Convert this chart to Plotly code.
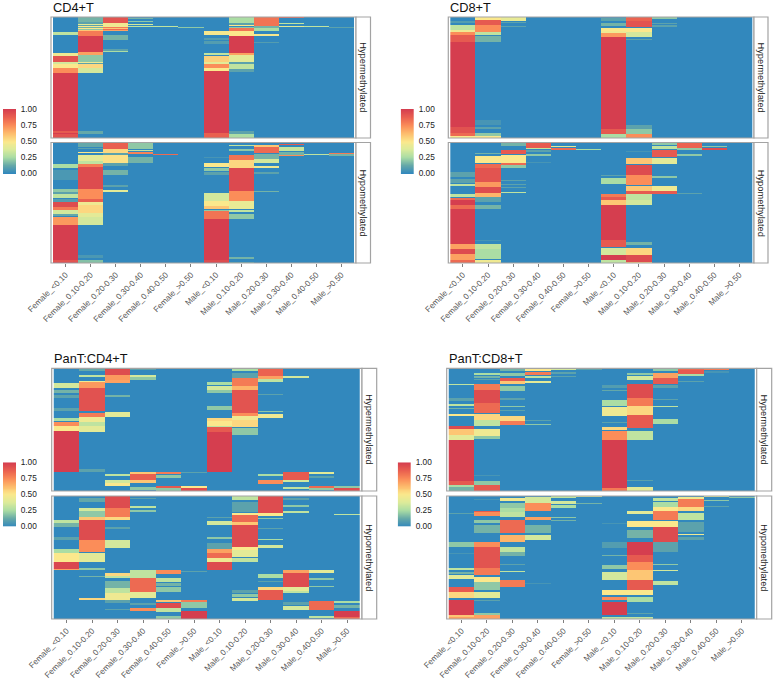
import plotly.graph_objects as go

CATEGORIES = ["Female_<0.10", "Female_0.10-0.20", "Female_0.20-0.30", "Female_0.30-0.40", "Female_0.40-0.50", "Female_>0.50",
              "Male_<0.10", "Male_0.10-0.20", "Male_0.20-0.30", "Male_0.30-0.40", "Male_0.40-0.50", "Male_>0.50"]
BAR_TICKS = [0, 0.25, 0.5, 0.75, 1]
BAR_LABELS = ["0.00", "0.25", "0.50", "0.75", "1.00"]

# Each heatmap column: (first row, row after last, proportion); unlisted rows read 0.
CD4_HYPER = [
 [(15,18,.3),(36,39,.45),(39,45,.92),(45,47,.35),(47,51,.5),(51,56,.75),(56,114,1),(114,116,.9),(116,117,1),(117,121,.93)],
 [(0,5,.15),(5,7,.1),(7,8,.4),(8,9,.1),(9,10,.5),(10,11,.15),(11,12,.5),(12,13,.2),(13,14,.6),(14,19,.8),(19,35,1),(35,38,.7),(38,45,.2),(45,46,.45),(46,47,.1),(47,51,.55),(51,56,.35),(114,117,.12)],
 [(0,6,.92),(6,10,.45),(10,11,.8),(11,12,.6),(12,13,.85),(13,14,.7),(18,23,.15),(32,34,.1),(34,35,.25)],
 [(1,2,.15),(4,5,.2),(7,8,.35),(9,10,.3)],
 [(9,10,.3)],
 [(10,11,.2)],
 [(14,18,.48),(21,23,.08),(24,27,.08),(36,38,.3),(39,45,.57),(45,47,.4),(47,51,.75),(51,54,.5),(54,116,1),(116,121,.88)],
 [(0,6,.25),(6,8,.1),(8,9,.5),(10,11,.2),(11,14,.82),(14,19,.5),(19,36,1),(36,38,.7),(38,45,.4),(45,47,.1),(47,52,.3),(52,55,.1),(114,117,.1),(117,121,.25)],
 [(0,9,.82),(9,11,.15),(11,14,.25),(17,19,.48),(25,26,.08)],
 [(0,1,.9),(6,7,.3),(9,10,.4)],
 [(9,10,.3)],
 [(10,11,.1)],
]
CD4_HYPO = [
 [(21,25,.25),(27,37,.06),(46,49,.2),(49,51,.1),(51,55,.3),(56,59,.08),(59,64,.95),(64,67,.8),(67,71,.35),(71,73,.12),(74,82,.72),(82,117,1),(117,119,.92),(119,121,1)],
 [(0,4,.12),(5,6,.1),(9,10,.5),(12,18,.4),(18,21,.3),(21,24,.8),(24,46,.95),(46,56,.75),(56,59,.88),(59,62,.45),(62,70,.55),(70,74,.4),(74,82,.35),(112,115,.06),(117,121,.18)],
 [(0,6,.88),(6,10,.55),(10,12,.1),(12,20,.52),(20,23,.1),(27,32,.15),(42,44,.1),(47,49,.4)],
 [(0,6,.2),(7,8,.3),(9,11,.78),(14,20,.15)],
 [(11,12,.85)],
 [],
 [(14,15,.05),(20,24,.5),(25,28,.2),(29,32,.1),(50,58,.35),(58,63,.5),(63,66,.6),(67,68,.2),(68,76,.82),(76,117,1),(117,119,.95),(119,121,1)],
 [(2,3,.3),(6,8,.2),(12,17,.82),(17,25,.55),(25,48,.96),(48,58,.75),(58,66,.42),(67,69,.3),(71,76,.2),(114,116,.15),(119,121,.1)],
 [(2,4,.6),(4,10,.85),(11,16,.15),(16,20,.35),(23,25,.45),(29,31,.1),(48,49,.15)],
 [(1,2,.9),(4,8,.32),(9,12,.15),(12,13,.75)],
 [(11,12,.3)],
 [(10,11,.8),(11,13,.15)],
]
CD8_HYPER = [
 [(4,6,.08),(8,13,.3),(13,15,.45),(15,18,.75),(18,25,.9),(25,110,1),(110,116,.93),(116,119,.85),(119,121,.5)],
 [(0,3,.5),(3,8,.9),(8,15,.75),(15,18,.3),(19,25,.15),(103,108,.05),(110,112,.1),(116,119,.2),(119,121,.5)],
 [(0,4,.42),(5,6,.1),(9,10,.1)],
 [], [], [],
 [(1,4,.1),(6,9,.15),(11,14,.5),(14,16,.45),(16,20,.72),(20,112,1),(112,117,.9),(117,121,.25)],
 [(0,4,.87),(4,10,.92),(11,15,.5),(15,20,.35),(22,23,.1),(108,112,.1),(112,117,.2),(117,121,.75)],
 [(0,2,.2),(6,7,.1),(8,10,.1)],
 [], [], [],
]
CD8_HYPO = [
 [(29,34,.1),(36,40,.1),(41,43,.3),(51,54,.3),(55,57,.85),(57,62,1),(62,66,.85),(66,101,1),(101,106,.7),(106,111,.95),(111,117,.7),(117,121,.85)],
 [(10,11,.15),(13,20,.5),(21,25,.85),(25,39,.92),(39,44,.72),(44,50,.95),(50,54,.65),(54,59,.1),(62,66,.15),(97,98,.05),(101,106,.3),(106,116,.25),(117,121,.45)],
 [(0,3,.15),(7,11,.9),(12,20,.5),(20,22,.85),(22,25,.2),(37,38,.1),(41,42,.1),(44,45,.1),(49,50,.3)],
 [(0,5,.9),(5,6,.3),(7,9,.1),(11,13,.2),(19,20,.05)],
 [(3,4,.4),(5,7,.85)],
 [(6,7,.25)],
 [(32,33,.1),(35,41,.25),(51,54,.8),(54,57,.9),(57,62,.6),(62,97,1),(97,104,.9),(105,112,.35),(112,117,1),(117,121,.3)],
 [(8,9,.05),(15,21,.6),(22,32,.95),(32,42,.75),(43,48,.6),(48,51,.9),(51,57,.3),(57,62,.35),(99,102,.15),(105,112,.55),(112,119,.95),(119,121,.6)],
 [(0,2,.2),(3,6,.3),(7,14,.9),(15,21,.4),(33,35,.2),(43,48,.45),(48,51,.9)],
 [(0,5,.87),(5,7,.2),(11,13,.2),(50,51,.1)],
 [(3,4,.2),(5,7,.95)],
 [],
]
PAN_CD4_HYPER = [
 [(15,20,.35),(22,25,.15),(27,30,.1),(40,43,.1),(50,53,.25),(54,58,.75),(58,63,.5),(63,104,1)],
 [(1,3,.12),(7,9,.3),(13,14,.45),(14,20,.72),(20,43,.93),(45,49,.8),(49,54,.45),(54,58,.3),(58,64,.4),(101,104,.1)],
 [(0,7,.95),(7,12,.72),(12,15,.7),(27,29,.15),(44,49,.4),(106,108,.3),(112,115,.35),(115,118,.5)],
 [(1,2,.1),(7,9,.35),(9,12,.2),(104,106,.6),(106,112,.88),(112,115,.6),(119,122,.2)],
 [(104,106,.8),(107,110,.2),(118,120,.9),(120,123,.2)],
 [(104,105,.1),(118,120,.5),(120,123,.95)],
 [(14,17,.25),(18,22,.35),(22,25,.2),(38,42,.2),(50,53,.55),(53,58,.5),(58,59,.3),(59,64,.9),(64,104,1)],
 [(1,3,.25),(5,10,.1),(10,18,.8),(18,22,.65),(22,45,.92),(45,48,.75),(48,52,.45),(52,59,.55),(60,67,.2)],
 [(0,8,.87),(8,11,.7),(11,14,.3),(26,27,.1),(43,44,.2),(46,50,.45),(106,108,.25),(112,116,.75)],
 [(8,10,.35),(104,112,.9),(112,114,.35),(119,121,.3)],
 [(104,106,.4),(108,110,.1),(118,120,.85),(120,122,.2)],
 [(118,120,.2),(120,123,.95)],
]
PAN_CD4_HYPO = [
 [(24,27,.3),(27,31,.15),(41,44,.1),(53,57,.25),(57,66,.5),(66,73,.97),(73,74,.7)],
 [(2,6,.12),(12,15,.35),(15,21,.2),(21,24,.6),(24,44,.95),(44,56,.75),(57,66,.4),(72,74,.2),(80,81,.15),(102,104,.55)],
 [(0,12,.95),(12,21,.8),(21,24,.55),(31,33,.1),(44,52,.35),(77,80,.55),(80,82,.3),(85,92,.15),(92,97,.3),(97,104,.45),(104,107,.1),(113,114,.1)],
 [(2,3,.1),(10,12,.3),(14,16,.2),(74,78,.3),(78,82,.3),(82,96,.85),(96,102,.4),(107,109,.1),(112,115,.75)],
 [(74,78,.75),(82,86,.3),(87,90,.15),(91,96,.2),(104,106,.6),(107,112,.95),(112,116,.3),(120,123,.2)],
 [(75,76,.1),(104,106,.8),(106,112,.2),(115,123,1)],
 [(21,22,.1),(25,29,.35),(41,43,.2),(47,53,.1),(53,57,.7),(57,62,.85),(62,66,.45),(66,74,.95)],
 [(0,4,.3),(6,16,.1),(17,19,.5),(19,26,.85),(26,29,.6),(29,51,.95),(51,54,.5),(54,61,.4),(62,66,.3),(94,97,.1),(98,101,.2),(102,105,.35)],
 [(0,17,.95),(17,20,.5),(22,23,.2),(32,33,.1),(43,44,.25),(49,52,.35),(78,82,.25),(85,86,.1),(91,94,.55),(94,104,.9)],
 [(2,4,.1),(9,11,.2),(15,17,.3),(74,77,.7),(77,91,.95),(91,95,.4),(95,97,.3),(106,109,.1),(110,114,.35)],
 [(74,77,.4),(82,84,.2),(90,91,.2),(105,114,.85),(120,122,.3)],
 [(18,19,.3),(105,107,.25),(109,112,.15),(115,121,1),(121,123,.85)],
]
PAN_CD8_HYPER = [
 [(16,17,.3),(30,33,.1),(36,38,.3),(40,41,.15),(46,48,.5),(58,61,.95),(61,67,.6),(67,72,.4),(72,113,1),(113,117,.9),(117,119,.25),(119,123,.15)],
 [(5,7,.25),(8,10,.15),(11,12,.1),(16,22,.8),(22,35,.95),(35,45,.85),(46,52,.55),(52,58,.3),(61,68,.45),(68,71,.2),(107,108,.05),(113,117,.2),(117,123,.9)],
 [(1,3,.15),(5,8,.2),(10,13,.9),(13,16,.6),(18,23,.2),(30,32,.1),(38,39,.2),(42,43,.1),(48,53,.55),(53,57,.8)],
 [(1,3,.5),(4,7,.8),(8,10,.3),(13,15,.4),(52,53,.1),(56,57,.2)],
 [(0,2,.35),(4,6,.1),(8,9,.1)],
 [(1,2,.1)],
 [(17,20,.08),(22,23,.12),(32,38,.25),(39,48,.45),(54,55,.1),(59,62,.55),(63,72,.75),(72,120,1),(120,123,.8)],
 [(5,7,.2),(8,12,.35),(16,30,.95),(30,38,.8),(38,47,.55),(47,60,.9),(63,72,.3),(112,113,.1),(119,123,.4)],
 [(1,3,.2),(5,10,.7),(10,16,.9),(17,20,.1),(31,32,.1),(38,39,.3),(51,56,.25)],
 [(0,2,.85),(2,6,.9),(6,8,.25),(13,14,.1)],
 [(0,2,.8),(3,5,.05)],
 [],
]
PAN_CD8_HYPO = [
 [(17,18,.1),(46,51,.2),(57,58,.05),(72,74,.3),(76,78,.15),(79,83,.4),(91,96,.9),(96,102,.55),(104,119,1),(119,121,.6),(121,123,.7)],
 [(3,4,.05),(15,16,.9),(16,20,.75),(24,27,.2),(29,37,.15),(46,51,.75),(51,72,.92),(72,79,.8),(81,86,.5),(86,94,.2),(96,102,.4),(104,105,.1),(117,119,.2),(119,123,.7)],
 [(2,5,.45),(7,12,.2),(12,16,.25),(16,21,.3),(24,37,.85),(39,46,.65),(51,56,.3),(56,60,.15),(68,69,.1),(75,76,.3),(84,91,.8)],
 [(1,7,.35),(7,15,.75),(21,24,.7),(29,37,.15),(39,44,.35),(87,88,.05)],
 [(0,2,.3),(5,8,.35),(9,12,.25),(21,22,.2),(24,25,.15)],
 [(0,1,.4),(7,8,.15)],
 [(27,28,.05),(46,52,.08),(59,60,.15),(69,73,.2),(76,84,.35),(94,99,.5),(101,104,.75),(106,119,1),(121,123,.3)],
 [(15,18,.4),(25,31,.5),(34,42,.15),(46,59,1),(59,66,.9),(66,74,.75),(74,84,.6),(84,94,.9),(94,99,.5),(101,106,.25),(117,118,.1),(121,123,.3)],
 [(2,5,.3),(6,11,.25),(11,15,.5),(15,24,.8),(25,31,.5),(31,46,.95),(46,56,.1),(68,69,.2),(74,75,.35),(85,89,.3)],
 [(1,3,.45),(3,11,.8),(11,15,.55),(17,24,.3),(26,36,.1),(38,39,.45),(41,44,.1)],
 [(0,1,.4),(4,5,.2),(10,11,.1)],
 [(1,2,.2)],
]

W, H = 775, 679
SCALE = [[0, "#3288BD"], [0.125, "#66A9A8"], [0.25, "#ABDDA4"], [0.375, "#DDEB9A"], [0.5, "#FBE88C"],
         [0.625, "#FDBE6E"], [0.75, "#FB8D59"], [0.875, "#EA6150"], [1, "#D53E4F"]]
GREY = "#A3A3A3"
TXT = "#555555"

PANELS = [
    dict(title="CD4+T", x0=51, x1=356, sx=370.5, y=[(17, 138), (142.5, 263)], rows=121, data=[CD4_HYPER, CD4_HYPO],
         bar=(3, 16, 109, 175), tx=50.5, ty=8),
    dict(title="CD8+T", x0=448.3, x1=754, sx=768, y=[(17, 138), (142.5, 263)], rows=121, data=[CD8_HYPER, CD8_HYPO],
         bar=(400.7, 414, 109, 175), tx=448, ty=8),
    dict(title="PanT:CD4+T", x0=51.7, x1=362, sx=376.7, y=[(368.3, 491), (496, 619)], rows=123, data=[PAN_CD4_HYPER, PAN_CD4_HYPO],
         bar=(3, 16, 462.3, 528), tx=51.5, ty=358.5),
    dict(title="PanT:CD8+T", x0=446.7, x1=756.7, sx=771.7, y=[(368.3, 491), (496, 619)], rows=123, data=[PAN_CD8_HYPER, PAN_CD8_HYPO],
         bar=(397.7, 411, 462.3, 528), tx=446.5, ty=358.5),
]
STRIPS = ["Hypermethylated", "Hypomethylated"]
RAMP_STEPS = 66


def grid(columns, rows):
    z = [[0.0] * len(columns) for _ in range(rows)]
    for c, runs in enumerate(columns):
        for a, b, v in runs:
            for r in range(a, b):
                z[r][c] = v
    return z


fig = go.Figure()
shapes, notes = [], []
layout_axes = {}
n = 0
for p in PANELS:
    notes.append(dict(text=p["title"], x=p["tx"] / W, y=1 - p["ty"] / H, xref="paper", yref="paper",
                      xanchor="left", yanchor="middle", showarrow=False,
                      font=dict(family="Liberation Sans", size=12.8, color="#111111")))
    for i, (yt, yb) in enumerate(p["y"]):
        n += 1
        suffix = "" if n == 1 else str(n)
        fig.add_trace(go.Heatmap(z=grid(p["data"][i], p["rows"]), x=CATEGORIES, y=list(range(p["rows"])),
                                 colorscale=SCALE, zmin=0, zmax=1, hoverinfo="skip",
                                 xaxis="x" + suffix, yaxis="y" + suffix, showscale=False))
        layout_axes["xaxis" + suffix] = dict(domain=[p["x0"] / W, p["x1"] / W], anchor="y" + suffix, automargin=False,
                                             type="category", categoryorder="array", categoryarray=CATEGORIES,
                                             range=[-0.58, 11.58], showgrid=False, zeroline=False, showline=False,
                                             ticks="outside" if i == 1 else "", ticklen=3, tickcolor="#7F7F7F", tickwidth=1,
                                             showticklabels=i == 1, tickangle=-45,
                                             tickfont=dict(family="Liberation Sans", size=8.2, color=TXT))
        layout_axes["yaxis" + suffix] = dict(domain=[1 - yb / H, 1 - yt / H], anchor="x" + suffix, automargin=False,
                                             range=[p["rows"] - 0.5, -0.5], showgrid=False, zeroline=False,
                                             showticklabels=False, ticks="", showline=False)
        shapes.append(dict(type="rect", xref="paper", yref="paper", x0=p["x0"] / W, x1=p["x1"] / W,
                           y0=1 - yb / H, y1=1 - yt / H, line=dict(color=GREY, width=1.2), fillcolor="rgba(0,0,0,0)", layer="above"))
        shapes.append(dict(type="rect", xref="paper", yref="paper", x0=p["x1"] / W, x1=p["sx"] / W,
                           y0=1 - yb / H, y1=1 - yt / H, line=dict(color=GREY, width=1.2), fillcolor="white", layer="above"))
        notes.append(dict(text=STRIPS[i], x=(p["x1"] + p["sx"]) / 2 / W, y=1 - (yt + yb) / 2 / H, xref="paper", yref="paper",
                          textangle=90, showarrow=False, xanchor="center", yanchor="middle",
                          font=dict(family="Liberation Sans", size=9.3, color="#1A1A1A")))
    # Colour key: a one-column heatmap on its own axes, labelled by a real y axis.
    n += 1
    suffix = str(n)
    bx0, bx1, by0, by1 = p["bar"]
    levels = [k / (RAMP_STEPS - 1) for k in range(RAMP_STEPS)]
    fig.add_trace(go.Heatmap(z=[[v] for v in levels], y=levels, x=[0], colorscale=SCALE, zmin=0, zmax=1, zsmooth="best",
                             hoverinfo="skip", showscale=False, xaxis="x" + suffix, yaxis="y" + suffix))
    layout_axes["xaxis" + suffix] = dict(domain=[bx0 / W, bx1 / W], anchor="y" + suffix, visible=False, range=[-0.5, 0.5], automargin=False)
    layout_axes["yaxis" + suffix] = dict(domain=[1 - by1 / H, 1 - by0 / H], anchor="x" + suffix, side="right", automargin=False,
                                         range=[-0.03, 1.0], tickmode="array", tickvals=BAR_TICKS, ticktext=BAR_LABELS,
                                         ticks="outside", ticklen=2, tickcolor="rgba(0,0,0,0)", showgrid=False, zeroline=False, showline=False,
                                         tickfont=dict(family="Liberation Sans", size=8.3, color="#222222"))

fig.update_layout(width=W, height=H, margin=dict(l=0, r=0, t=0, b=0), paper_bgcolor="white", plot_bgcolor="white",
                  shapes=shapes, annotations=notes, **layout_axes)
fig.write_html("out.html", config={"displayModeBar": False},
               post_script="document.body.style.margin='0';")
